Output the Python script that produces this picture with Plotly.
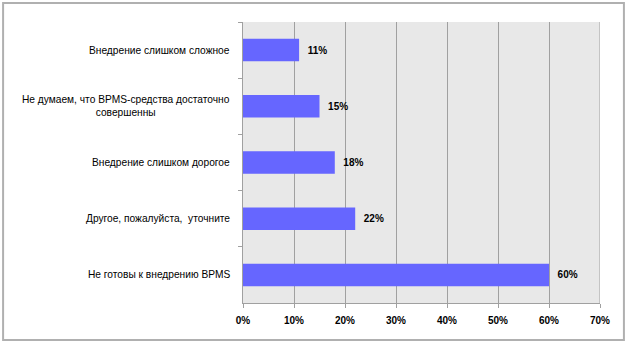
import plotly.graph_objects as go

categories = [
    "Внедрение слишком сложное",
    "Не думаем, что BPMS-средства достаточно<br>совершенны",
    "Внедрение слишком дорогое",
    "Другое, пожалуйста,  уточните",
    "Не готовы к внедрению BPMS",
]
values = [11, 15, 18, 22, 60]
x_ticks = [0, 10, 20, 30, 40, 50, 60, 70]
x_tick_labels = [f"{v}%" for v in x_ticks]

fig = go.Figure()
fig.add_trace(go.Bar(
    y=categories, x=values, orientation="h",
    marker=dict(color="#6666FF", line=dict(width=0)),
    width=0.4,
    text=[f"  {v}%" for v in values],
    textposition="outside",
    textfont=dict(family="Arial", size=10, color="#000000", weight="bold"),
    cliponaxis=False,
    hoverinfo="skip",
))

for c in categories:
    fig.add_annotation(
        x=0, y=c, xref="paper", yref="y", text=c, showarrow=False,
        xanchor="right", xshift=-11, align="center",
        font=dict(family="Arial", size=10.2, color="#000000"),
    )

fig.add_shape(type="rect", xref="paper", yref="paper",
              x0=-0.672, x1=1.067, y0=-0.1317, y1=1.0676,
              line=dict(color="#B0B0B0", width=2), fillcolor="rgba(0,0,0,0)",
              layer="below")

fig.update_layout(
    width=628, height=345,
    margin=dict(l=243, r=28, t=22, b=42),
    paper_bgcolor="#FFFFFF",
    plot_bgcolor="#E8E8E8",
    showlegend=False,
    bargap=0.6,
    xaxis=dict(
        range=[0, 70], tickvals=x_ticks, ticktext=x_tick_labels,
        showgrid=True, gridcolor="#A0A0A0", gridwidth=1,
        showline=True, linecolor="#A0A0A0", linewidth=1,
        ticks="outside", ticklen=4, tickcolor="#A0A0A0",
        ticklabelstandoff=4,
        tickfont=dict(family="Arial", size=10, color="#000000", weight="bold"),
        zeroline=False, fixedrange=True,
    ),
    yaxis=dict(
        autorange="reversed", showticklabels=False,
        showline=True, linecolor="#A0A0A0", linewidth=1,
        ticks="outside", ticklen=4, tickcolor="#A0A0A0",
        tickson="boundaries", showgrid=False, fixedrange=True,
    ),
)
fig.add_vline(x=70, line=dict(color="#A0A0A0", width=1))

fig.write_html("out.html")
